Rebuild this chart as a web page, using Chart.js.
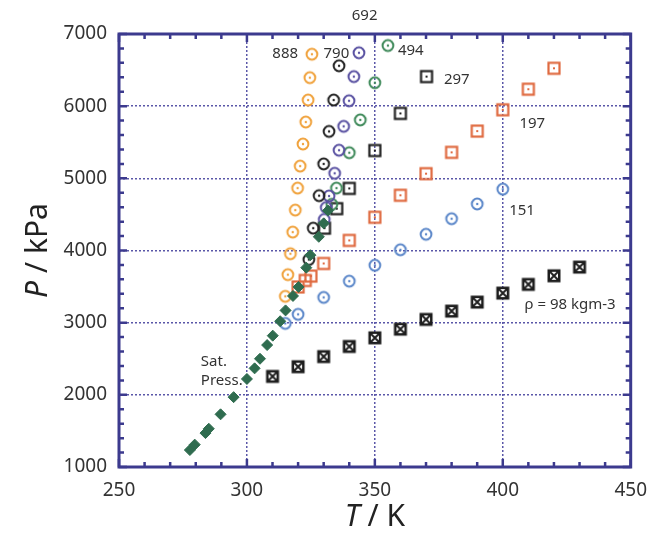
<!DOCTYPE html>
<html>
<head>
<meta charset="utf-8">
<script src="https://cdn.jsdelivr.net/npm/chart.js@4.4.1/dist/chart.umd.min.js"></script>
<style>
  html, body { margin: 0; padding: 0; background: #fff; }
</style>
</head>
<body>
<canvas id="myChart" width="659" height="533"></canvas>
<script>
// isochores (T in K, P in kPa)
const t888 = [325.4, 324.6, 323.9, 323.0, 321.9, 320.8, 319.8, 318.9, 317.9, 317.0, 316.0, 315.0];
const p888 = [6720, 6395, 6085, 5780, 5475, 5170, 4865, 4560, 4255, 3955, 3665, 3365];
const t790 = [336.0, 333.9, 332.1, 330.0, 328.2, 325.9, 324.2];
const p790 = [6560, 6085, 5650, 5200, 4760, 4310, 3875];
const t692 = [343.8, 341.8, 339.9, 337.8, 336.0, 334.3, 332.1, 331.0, 330.2];
const p692 = [6740, 6410, 6075, 5720, 5390, 5070, 4755, 4595, 4430];
const t494 = [355.1, 350.0, 344.3, 340.0, 335.0, 333.2];
const p494 = [6840, 6325, 5810, 5355, 4865, 4640];
const t297 = [330.3, 335.1, 340, 350, 360, 370.2];
const p297 = [4310, 4580, 4860, 5385, 5900, 6410];
const t197 = [320, 322.8, 325, 330, 340, 350, 360, 370, 380, 390, 400, 410, 420];
const p197 = [3495, 3585, 3645, 3820, 4140, 4460, 4765, 5065, 5360, 5655, 5950, 6235, 6525];
const t151 = [315, 320, 330, 340, 350, 360, 370, 380, 390, 400];
const p151 = [2990, 3115, 3350, 3575, 3795, 4010, 4225, 4440, 4645, 4850];
const t98 = [310, 320, 330, 340, 350, 360, 370, 380, 390, 400, 410, 420, 430];
const p98 = [2255, 2390, 2530, 2670, 2790, 2910, 3045, 3160, 3285, 3410, 3530, 3650, 3770];
// saturation pressure curve
const tSat = [277.7, 279.6, 283.8, 285.1, 289.7, 294.8, 300.0, 303.0, 305.1, 307.9, 310.1, 313.0, 315.1, 318.0, 320.2, 323.2, 324.8, 328.1, 330.0, 331.7];
const pSat = [1235, 1310, 1470, 1530, 1730, 1968, 2220, 2367, 2500, 2690, 2820, 3020, 3170, 3370, 3495, 3762, 3935, 4190, 4376, 4553];

// axis ticks
const xTicks = [250, 300, 350, 400, 450];
const yTicks = [1000, 2000, 3000, 4000, 5000, 6000, 7000];

// text labels on the plot
const notes = [
   { text: "888", t: 320, p: 6720, align: "right" },
   { text: "790", t: 340, p: 6720, align: "right" },
   { text: "692", t: 346, p: 7250, align: "center" },
   { text: "494", t: 359, p: 6765, align: "left" },
   { text: "297", t: 377, p: 6370, align: "left" },
   { text: "197", t: 406.5, p: 5760, align: "left" },
   { text: "151", t: 402.5, p: 4550, align: "left" },
   { text: "\u03c1 = 98 kgm-3", t: 408.5, p: 3250, align: "left" },
   { text: "Sat.", t: 282, p: 2460, align: "left" },
   { text: "Press.", t: 282, p: 2200, align: "left" },
];

const FONT = "'Noto Sans', 'DejaVu Sans', sans-serif";
const frameColor = "#3c3a8e";
const gridColor = "#5a57a8";

const pts = (ts, ps) => ts.map((t, i) => ({ x: t, y: ps[i] }));

// marker images
function ring(color) {
   const c = document.createElement("canvas");
   c.width = c.height = 16;
   const g = c.getContext("2d");
   g.strokeStyle = color;
   g.lineWidth = 2;
   g.beginPath();
   g.arc(8, 8, 5.4, 0, Math.PI * 2);
   g.stroke();
   g.fillStyle = color;
   g.beginPath();
   g.arc(8, 8, 1.2, 0, Math.PI * 2);
   g.fill();
   return c;
}
function box(color) {
   const c = document.createElement("canvas");
   c.width = c.height = 18;
   const g = c.getContext("2d");
   g.strokeStyle = color;
   g.lineWidth = 2.2;
   g.strokeRect(3.5, 3.5, 11, 11);
   g.fillStyle = color;
   g.fillRect(8, 8, 2, 2);
   return c;
}
function crossBox(color) {
   const c = document.createElement("canvas");
   c.width = c.height = 18;
   const g = c.getContext("2d");
   g.fillStyle = color;
   g.fillRect(2.5, 2.5, 13, 13);
   g.fillStyle = "#fff";
   g.fillRect(5, 5, 8, 8);
   g.strokeStyle = color;
   g.lineWidth = 2;
   g.beginPath();
   g.moveTo(5, 5); g.lineTo(13, 13);
   g.moveTo(13, 5); g.lineTo(5, 13);
   g.stroke();
   return c;
}

function series(ts, ps, marker) {
   return { data: pts(ts, ps), pointStyle: marker, pointRadius: 6, pointHoverRadius: 6, showLine: false };
}

// frame with inward ticks on all four sides, plus text labels
const framePlugin = {
   id: "frame",
   beforeDatasetsDraw(chart) {
      const { ctx, chartArea: a, scales: { x, y } } = chart;
      ctx.save();
      ctx.strokeStyle = frameColor;
      ctx.lineWidth = 2.5;
      ctx.beginPath();
      for (let v = 250; v <= 450; v += 10) {
         const px = x.getPixelForValue(v);
         const len = v % 50 === 0 ? 8 : 5;
         ctx.moveTo(px, a.bottom); ctx.lineTo(px, a.bottom - len);
         ctx.moveTo(px, a.top); ctx.lineTo(px, a.top + len);
      }
      for (let v = 1000; v <= 7000; v += 200) {
         const py = y.getPixelForValue(v);
         const len = v % 1000 === 0 ? 8 : 5;
         ctx.moveTo(a.left, py); ctx.lineTo(a.left + len, py);
         ctx.moveTo(a.right, py); ctx.lineTo(a.right - len, py);
      }
      ctx.stroke();
      ctx.lineWidth = 3;
      ctx.strokeRect(a.left, a.top, a.right - a.left, a.bottom - a.top);
      ctx.restore();
   },
   afterDraw(chart) {
      const { ctx, chartArea: a, scales: { x, y } } = chart;
      ctx.save();
      ctx.fillStyle = "#333";
      ctx.textBaseline = "middle";
      ctx.font = "15px " + FONT;
      notes.forEach((n) => {
         ctx.textAlign = n.align;
         ctx.fillText(n.text, x.getPixelForValue(n.t), y.getPixelForValue(n.p));
      });
      // axis titles: italic symbol + plain unit
      ctx.fillStyle = "#222";
      ctx.textAlign = "left";
      ctx.textBaseline = "alphabetic";
      const it = "italic 30px " + FONT, rg = "30px " + FONT;
      ctx.font = it; const wT = ctx.measureText("T").width;
      ctx.font = rg; const wK = ctx.measureText(" / K").width;
      let sx = (a.left + a.right) / 2 - (wT + wK) / 2;
      ctx.font = it; ctx.fillText("T", sx, 526);
      ctx.font = rg; ctx.fillText(" / K", sx + wT, 526);

      ctx.font = it; const wP = ctx.measureText("P").width;
      ctx.font = rg; const wU = ctx.measureText(" / kPa").width;
      ctx.translate(47, (a.top + a.bottom) / 2);
      ctx.rotate(-Math.PI / 2);
      sx = -(wP + wU) / 2;
      ctx.font = it; ctx.fillText("P", sx, 0);
      ctx.font = rg; ctx.fillText(" / kPa", sx + wP, 0);
      ctx.restore();
   },
};

const sat = series(tSat, pSat, "rectRot");
sat.pointRadius = 5.5;
sat.pointHoverRadius = 5.5;
sat.backgroundColor = "#2f6c4f";
sat.borderColor = "#2f6c4f";
sat.borderWidth = 1;

const plain = (v) => String(v);

const ctx = document.getElementById("myChart").getContext("2d");
new Chart(ctx, {
   type: "scatter",
   data: {
      datasets: [
         sat,
         series(t888, p888, ring("#f0a23c")),
         series(t790, p790, ring("#222222")),
         series(t692, p692, ring("#5a52a2")),
         series(t494, p494, ring("#3f8a5a")),
         series(t297, p297, box("#222222")),
         series(t197, p197, box("#df6a40")),
         series(t151, p151, ring("#5b87c9")),
         series(t98, p98, crossBox("#1e1e1e")),
      ],
   },
   options: {
      responsive: false,
      animation: false,
      devicePixelRatio: 1,
      layout: { padding: { top: 34, right: 27, left: 0, bottom: 0 } },
      plugins: { legend: { display: false }, tooltip: { enabled: false } },
      scales: {
         x: {
            type: "linear",
            min: 250,
            max: 450,
            afterBuildTicks: (s) => { s.ticks = xTicks.map((v) => ({ value: v })); },
            ticks: { padding: 12, color: "#333", font: { family: FONT, size: 19 }, callback: plain },
            grid: { color: gridColor, lineWidth: 1.5, drawTicks: false },
            border: { display: false, dash: [2, 2] },
            afterFit: (s) => { s.height = 66; },
         },
         y: {
            min: 1000,
            max: 7000,
            afterBuildTicks: (s) => { s.ticks = yTicks.map((v) => ({ value: v })); },
            ticks: { padding: 12, color: "#333", font: { family: FONT, size: 19 }, callback: plain },
            grid: { color: gridColor, lineWidth: 1.5, drawTicks: false },
            border: { display: false, dash: [2, 2] },
            afterFit: (s) => { s.width = 119; },
         },
      },
   },
   plugins: [framePlugin],
});
</script>
</body>
</html>
